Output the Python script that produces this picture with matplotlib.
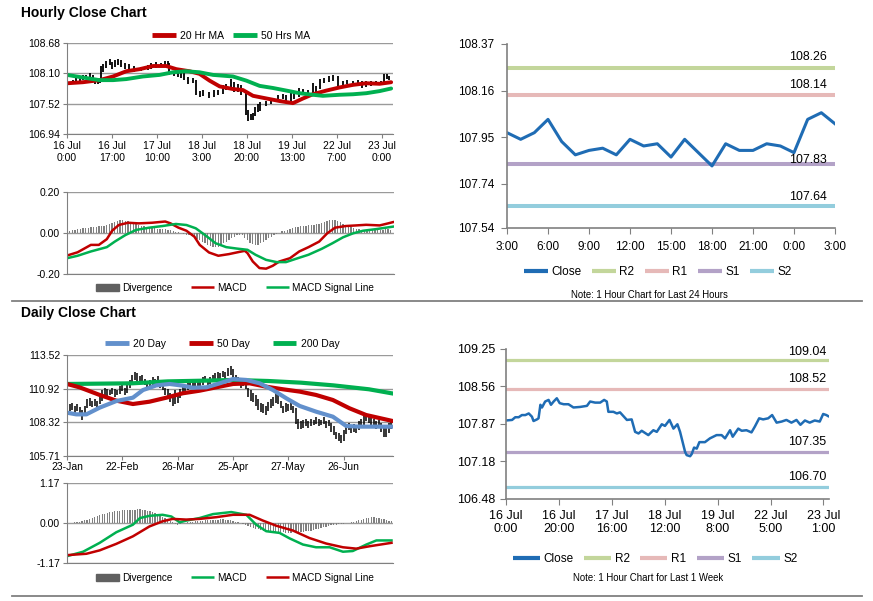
import matplotlib

matplotlib.use("Agg")
import matplotlib.pyplot as plt
from matplotlib import font_manager
from matplotlib.lines import Line2D
from matplotlib.patches import Patch

W, H = 873, 601

# ---- hourly data (hour index from 16 Jul 0:00, weekend removed) ----
hr_x = [0, 2.3, 3.5, 4.8, 6, 7.3, 8.6, 9.8, 10.4, 11.7, 12.3, 13, 13.6, 14.8, 16.1, 17, 18,
        19.2, 20.3, 21.8, 23.6, 25.5, 28, 30.6, 31.8, 33.7, 35.6, 37.1, 38.1, 38.7, 40.6,
        41.9, 43.1, 44.4, 45.7, 47.5, 48.8, 50.1, 51.3, 53.8, 55.7, 57, 58.9, 60.1, 61.8,
        63.3, 64.8, 65.8, 67.7, 68.3, 69.6, 70.2, 71.1, 72.1, 73.1, 75.2, 77.1, 79.6, 81.5,
        82.8, 84.7, 85.7, 87.8, 89.1, 90.9, 92.8, 94.1, 95.7, 97.2, 99.1, 100.6, 102.3,
        104.2, 106, 107.9, 109.8, 111.3, 113, 114.8, 116.7, 118.6, 119.9, 121.1, 121.8]
hr_close = [107.93, 107.94, 107.99, 107.99, 108.03, 108.03, 108.06, 108.00, 107.92, 107.95,
            107.97, 108.22, 108.17, 108.28, 108.31, 108.22, 108.28, 108.34, 108.25, 108.23,
            108.23, 108.17, 108.18, 108.20, 108.28, 108.26, 108.26, 108.31, 108.28, 108.09,
            108.09, 108.06, 108.08, 108.01, 107.94, 107.95, 107.72, 107.69, 107.74, 107.66,
            107.75, 107.72, 107.86, 107.83, 107.94, 107.78, 107.86, 107.72, 107.35, 107.29,
            107.27, 107.31, 107.43, 107.41, 107.53, 107.53, 107.60, 107.66, 107.66, 107.60,
            107.75, 107.63, 107.78, 107.74, 107.75, 107.71, 107.82, 107.97, 107.95, 107.97,
            108.03, 107.89, 107.91, 107.94, 107.89, 107.94, 107.85, 107.93, 107.89, 107.93,
            107.91, 108.05, 108.03, 108.01]
hr_high = [107.97, 107.98, 108.02, 108.03, 108.06, 108.07, 108.10, 108.06, 108.01, 107.99,
           108.00, 108.24, 108.27, 108.33, 108.38, 108.32, 108.36, 108.38, 108.35, 108.29,
           108.27, 108.24, 108.23, 108.26, 108.30, 108.31, 108.30, 108.33, 108.33, 108.30,
           108.14, 108.12, 108.12, 108.10, 108.03, 108.01, 107.97, 107.76, 107.78, 107.74,
           107.79, 107.78, 107.88, 107.90, 107.99, 107.94, 107.89, 107.87, 107.74, 107.40,
           107.33, 107.34, 107.46, 107.52, 107.56, 107.58, 107.63, 107.69, 107.70, 107.68,
           107.77, 107.76, 107.82, 107.81, 107.79, 107.92, 107.85, 107.99, 108.01, 108.05,
           108.06, 108.05, 107.95, 107.97, 107.95, 107.97, 107.95, 107.96, 107.95, 107.95,
           107.95, 108.08, 108.08, 108.05]
hr_low = [107.86, 107.90, 107.92, 107.95, 107.97, 107.99, 108.00, 107.96, 107.90, 107.90,
          107.92, 107.95, 108.12, 108.20, 108.25, 108.18, 108.22, 108.26, 108.22, 108.19,
          108.17, 108.13, 108.14, 108.16, 108.18, 108.21, 108.22, 108.23, 108.24, 108.07,
          108.05, 108.03, 108.02, 107.97, 107.90, 107.91, 107.68, 107.64, 107.66, 107.62,
          107.65, 107.68, 107.70, 107.79, 107.82, 107.74, 107.75, 107.69, 107.30, 107.18,
          107.20, 107.20, 107.28, 107.36, 107.38, 107.48, 107.51, 107.58, 107.61, 107.56,
          107.58, 107.60, 107.65, 107.70, 107.70, 107.68, 107.70, 107.80, 107.91, 107.93,
          107.95, 107.86, 107.86, 107.89, 107.85, 107.88, 107.82, 107.84, 107.86, 107.87,
          107.87, 107.90, 108.00, 107.98]

ma_x = [0, 6, 12.3, 17.4, 22.4, 27.5, 32.5, 37.5, 41.3, 46.3, 50.1, 53.9, 57.7, 62.7, 66.5,
        70.3, 75.3, 80.4, 85.4, 89.2, 92.9, 98, 103, 108.1, 113.1, 118.1, 122.5]
ma20h = [107.91, 107.93, 107.97, 108.04, 108.14, 108.18, 108.24, 108.24, 108.18, 108.14,
         108.09, 107.96, 107.85, 107.80, 107.78, 107.67, 107.62, 107.57, 107.53, 107.62,
         107.70, 107.77, 107.83, 107.88, 107.91, 107.90, 107.93]
ma50_x = [0, 6, 12.3, 17.4, 22.4, 28.7, 35, 40, 45, 50.1, 55.2, 62.7, 67.8, 72.8, 77.8, 82.9,
          87.9, 92.9, 96.7, 103, 108.1, 113.1, 118.1, 122.5]
ma50h = [108.07, 108.02, 107.97, 107.97, 107.99, 108.04, 108.07, 108.12, 108.14, 108.12,
         108.07, 108.04, 107.96, 107.86, 107.82, 107.77, 107.72, 107.69, 107.67, 107.69,
         107.70, 107.72, 107.76, 107.81]

macd_hx = [0, 4, 9, 12, 15, 17, 19.5, 23, 27, 32, 37, 39, 42, 45, 48, 50, 53.5, 57, 61, 65,
           67, 68, 70, 72.5, 75, 77.5, 80, 84, 87.5, 91, 95, 98, 101, 105, 109, 112.7, 117.8,
           121, 122.8]
macd_h = [-0.110, -0.094, -0.058, -0.058, -0.030, 0.011, 0.039, 0.050, 0.047, 0.050, 0.056,
          0.047, 0.026, 0.011, -0.018, -0.058, -0.095, -0.111, -0.103, -0.092, -0.087,
          -0.098, -0.139, -0.171, -0.174, -0.160, -0.139, -0.123, -0.090, -0.069, -0.042,
          -0.002, 0.026, 0.034, 0.037, 0.040, 0.037, 0.047, 0.053]
sig_hx = [0, 4, 9, 15, 18, 22, 26, 31, 36, 41, 45, 48.5, 52, 56, 60, 64, 68, 71, 75, 79,
          82.5, 86, 91, 96, 100, 104, 107.7, 111.5, 116.5, 122.8]
sig_h = [-0.123, -0.111, -0.090, -0.069, -0.042, -0.010, 0.015, 0.026, 0.034, 0.044, 0.039,
         0.023, -0.010, -0.050, -0.069, -0.076, -0.082, -0.106, -0.131, -0.142, -0.142,
         -0.127, -0.106, -0.077, -0.050, -0.021, -0.002, 0.011, 0.019, 0.031]
div_h = [0.010, 0.012, 0.015, 0.017, 0.018, 0.020, 0.022, 0.024, 0.026, 0.028,
         0.030, 0.031, 0.033, 0.034, 0.036, 0.040, 0.045, 0.050, 0.056, 0.060,
         0.064, 0.063, 0.060, 0.058, 0.055, 0.050, 0.045, 0.040, 0.036, 0.032,
         0.028, 0.025, 0.023, 0.022, 0.020, 0.020, 0.019, 0.018, 0.016, 0.014,
         0.010, 0.007, 0.004, 0.001, -0.003, -0.008, -0.012, -0.016, -0.022, -0.028,
         -0.035, -0.042, -0.050, -0.058, -0.064, -0.068, -0.070, -0.066, -0.058, -0.050,
         -0.042, -0.034, -0.026, -0.018, -0.012, -0.008, -0.012, -0.022, -0.035, -0.048,
         -0.056, -0.060, -0.058, -0.050, -0.042, -0.034, -0.026, -0.018, -0.010, -0.004,
         0.002, 0.008, 0.012, 0.016, 0.020, 0.024, 0.027, 0.030, 0.032, 0.034,
         0.036, 0.038, 0.040, 0.041, 0.042, 0.045, 0.050, 0.055, 0.060, 0.063,
         0.065, 0.064, 0.060, 0.054, 0.046, 0.040, 0.034, 0.028, 0.024, 0.020,
         0.018, 0.016, 0.015, 0.016, 0.017, 0.016, 0.015, 0.014, 0.015, 0.016,
         0.018, 0.019, 0.017]
hr_ticks = [0, 17, 34, 51, 68, 85, 102, 119]
hr_labels = ["16 Jul\n0:00", "16 Jul\n17:00", "17 Jul\n10:00", "18 Jul\n3:00",
             "18 Jul\n20:00", "19 Jul\n13:00", "22 Jul\n7:00", "23 Jul\n0:00"]

# ---- last 24 hours ----
day_close = [107.97, 107.94, 107.97, 108.03, 107.93, 107.87, 107.89, 107.90, 107.87, 107.94,
             107.91, 107.92, 107.86, 107.94, 107.88, 107.82, 107.92, 107.89, 107.89, 107.92,
             107.91, 107.88, 108.03, 108.06, 108.01]
day_labels = ["3:00", "6:00", "9:00", "12:00", "15:00", "18:00", "21:00", "0:00", "3:00"]
lvl_names = ["R2", "R1", "S1", "S2"]
lvl_24h = [108.26, 108.14, 107.83, 107.64]
lvl_week = [109.04, 108.52, 107.35, 106.70]
wk_ticks = [0, 20, 40, 60, 80, 100, 120]
wk_labels = ["16 Jul\n0:00", "16 Jul\n20:00", "17 Jul\n16:00", "18 Jul\n12:00",
             "19 Jul\n8:00", "22 Jul\n5:00", "23 Jul\n1:00"]

# ---- daily data (trading-day index from 23 Jan) ----
d_high = [109.9, 109.7, 109.8, 109.6, 109.7, 109.5, 109.3, 109.6, 110.1, 110.2,
          110.0, 110.1, 110.0, 110.3, 110.8, 111.0, 110.9, 110.8, 111.0, 110.9,
          110.8, 111.1, 111.3, 111.0, 111.4, 111.6, 112.0, 112.2, 112.1, 111.9,
          112.0, 111.7, 111.5, 111.6, 111.8, 111.7, 111.9, 111.6, 111.4, 111.0,
          110.9, 110.6, 110.4, 110.8, 110.5, 110.9, 111.1, 111.0, 111.4, 111.6,
          111.5, 111.7, 111.6, 111.5, 111.8, 111.9, 111.7, 111.8, 112.0, 112.1,
          112.2, 112.1, 112.3, 112.2, 112.5, 112.7, 112.4, 112.0, 111.8, 111.6,
          111.7, 111.5, 111.0, 110.8, 110.6, 110.4, 110.1, 109.8, 109.7, 109.6,
          109.9, 110.1, 110.3, 110.6, 110.4, 110.0, 109.6, 109.8, 109.7, 109.9,
          109.6, 109.4, 108.6, 108.4, 108.5, 108.6, 108.4, 108.6, 108.5, 108.7,
          108.6, 108.5, 108.7, 108.4, 108.5, 108.3, 108.0, 107.6, 107.5, 107.3,
          107.7, 108.1, 108.3, 108.0, 108.2, 108.1, 108.4, 108.6, 108.8, 109.0,
          108.9, 108.7, 108.6, 108.4, 108.5, 108.3, 108.1, 107.9, 108.3, 108.4]
d_low = [109.3, 109.2, 109.3, 109.0, 109.2, 108.9, 108.5, 108.9, 109.4, 109.6,
         109.5, 109.6, 109.5, 109.7, 110.0, 110.4, 110.3, 110.4, 110.5, 110.3,
         110.4, 110.5, 110.7, 110.4, 110.6, 111.0, 111.3, 111.6, 111.5, 111.3,
         111.4, 111.2, 110.9, 111.0, 111.1, 111.2, 111.3, 111.0, 110.8, 110.4,
         110.2, 109.9, 109.6, 109.7, 109.8, 110.2, 110.4, 110.5, 110.8, 111.0,
         111.0, 111.1, 111.0, 110.9, 111.2, 111.4, 111.2, 111.3, 111.4, 111.6,
         111.7, 111.6, 111.8, 111.7, 111.9, 112.0, 111.7, 111.4, 111.2, 111.0,
         111.1, 110.9, 110.3, 110.0, 109.9, 109.6, 109.3, 109.1, 109.0, 108.9,
         109.2, 109.4, 109.6, 109.8, 109.7, 109.4, 109.0, 109.1, 109.2, 109.3,
         109.0, 108.2, 107.8, 107.8, 107.9, 108.0, 107.9, 108.0, 108.1, 108.2,
         108.0, 108.1, 108.2, 107.9, 108.0, 107.6, 107.3, 107.0, 106.9, 106.7,
         106.9, 107.4, 107.7, 107.5, 107.6, 107.5, 107.7, 107.9, 108.1, 108.4,
         108.3, 108.1, 108.0, 107.8, 107.9, 107.6, 107.2, 107.2, 107.5, 107.8]
ma20d_x = [0, 3.7, 7.7, 13, 19.6, 26.2, 30.2, 35.5, 40.8, 46, 50, 55.4, 60.7, 66, 71.3,
           76.6, 81.9, 87.2, 92.5, 99, 105.7, 111, 116.3, 128.9]
ma20d = [109.06, 108.93, 108.93, 109.45, 109.96, 110.22, 110.81, 111.17, 111.28, 111.15,
         110.99, 111.02, 111.33, 111.66, 111.59, 111.33, 110.81, 110.17, 109.58, 109.14,
         108.75, 108.03, 107.98, 107.98]
ma50d_x = [0, 5, 13, 19.6, 26.2, 32.8, 39.5, 46, 52.7, 59.3, 66, 72.6, 79.2, 85.8, 92.5,
           99, 105.7, 112.3, 118.9, 128.9]
ma50d = [111.28, 111.02, 110.43, 109.99, 109.73, 109.91, 110.22, 110.56, 110.76, 111.02,
         111.28, 111.33, 111.07, 110.87, 110.69, 110.43, 110.04, 109.40, 108.88, 108.44]
ma200d_x = [0, 26, 40, 53, 66, 80, 93, 106, 120, 129]
ma200d = [111.28, 111.33, 111.48, 111.53, 111.59, 111.51, 111.38, 111.17, 110.87, 110.56]

macd_dx = [0, 6.4, 13, 19.6, 26.2, 29, 32.8, 38, 41.5, 44.8, 47.4, 52.7, 58, 65.3, 71.3,
           75.2, 79.2, 84.5, 88.5, 93.8, 99, 104.4, 109.7, 113.6, 119, 123, 129]
macd_d = [-0.97, -0.84, -0.58, -0.27, -0.05, 0.145, 0.21, 0.24, 0.19, 0.02, 0.07, 0.145,
          0.26, 0.32, 0.24, -0.05, -0.24, -0.29, -0.45, -0.63, -0.71, -0.71, -0.84, -0.82,
          -0.63, -0.51, -0.51]
sig_dx = [0, 7.7, 13, 19.6, 26.2, 32.8, 38, 42, 47.4, 52.7, 59.3, 66, 72.6, 77.9, 83.2,
          89.8, 96.4, 103, 109.7, 115, 120.3, 129]
sig_d = [-0.94, -0.90, -0.80, -0.61, -0.39, -0.10, 0.05, 0.12, 0.10, 0.12, 0.17, 0.24,
         0.24, 0.07, -0.08, -0.22, -0.44, -0.60, -0.71, -0.75, -0.68, -0.58]
div_d = [0.00, 0.01, 0.01, 0.02, 0.03, 0.04, 0.06, 0.08, 0.10, 0.12,
         0.14, 0.17, 0.20, 0.22, 0.25, 0.27, 0.29, 0.31, 0.33, 0.34,
         0.35, 0.36, 0.37, 0.37, 0.38, 0.38, 0.38, 0.39, 0.40, 0.40,
         0.39, 0.38, 0.36, 0.34, 0.32, 0.29, 0.26, 0.22, 0.18, 0.14,
         0.10, 0.06, 0.02, -0.03, -0.05, -0.03, -0.01, 0.01, 0.02, 0.03,
         0.04, 0.05, 0.05, 0.06, 0.07, 0.08, 0.09, 0.09, 0.10, 0.10,
         0.10, 0.11, 0.11, 0.10, 0.09, 0.08, 0.06, 0.04, 0.02, 0.00,
         -0.02, -0.05, -0.08, -0.11, -0.14, -0.17, -0.19, -0.21, -0.22, -0.23,
         -0.24, -0.25, -0.25, -0.26, -0.26, -0.27, -0.27, -0.28, -0.28, -0.28,
         -0.27, -0.27, -0.26, -0.26, -0.25, -0.24, -0.23, -0.22, -0.20, -0.19,
         -0.17, -0.15, -0.13, -0.11, -0.09, -0.07, -0.06, -0.05, -0.04, -0.03,
         -0.02, -0.01, 0.00, 0.02, 0.04, 0.06, 0.08, 0.10, 0.12, 0.14,
         0.16, 0.17, 0.17, 0.16, 0.15, 0.13, 0.11, 0.09, 0.07, 0.05]
d_ticks = [0, 22, 44, 66, 88, 110]
d_labels = ["23-Jan", "22-Feb", "26-Mar", "25-Apr", "27-May", "26-Jun"]

RED, GREEN, BLUE, CLOSE = "#C00000", "#00B050", "#6290CC", "#1F6CB4"
LVL_COLORS = ["#C3D69B", "#E6B9B8", "#B3A2C7", "#93CDDD"]
GRID, DIVC = "#9A9A9A", "#808080"

plt.rcParams["font.family"] = ["Liberation Sans", "DejaVu Sans"]
have = {f.name for f in font_manager.fontManager.ttflist}
if "Liberation Sans Narrow" in have:
    NARROW, NSCALE = ["Liberation Sans Narrow", "DejaVu Sans"], 1.0
else:
    NARROW, NSCALE = ["Liberation Sans", "DejaVu Sans"], 0.85


def nprop(size):
    return {"family": NARROW, "size": size * NSCALE}


fig = plt.figure(figsize=(W / 100, H / 100), dpi=100)


def px_axes(l, t, r, b):
    return fig.add_axes([l / W, 1 - b / H, (r - l) / W, (b - t) / H])


def left_style(ax, lo, hi, yticks, fmt, xlim):
    ax.set_xlim(*xlim)
    ax.set_ylim(lo, hi)
    ax.set_yticks(yticks)
    ax.set_yticklabels([fmt.format(v) for v in yticks], fontsize=7.5)
    for s in ("top", "right"):
        ax.spines[s].set_visible(False)
    for s in ("left", "bottom"):
        ax.spines[s].set_color("#808080")
    ax.grid(axis="y", color=GRID, lw=1)
    ax.set_axisbelow(True)
    ax.tick_params(color="#808080", length=3, pad=2, labelsize=7.5)


def legend(handles, labels, cx, cy, prop, hl=2.3, cs=1.0, tp=0.4):
    fig.legend(handles, labels, loc="center", bbox_to_anchor=(cx / W, 1 - cy / H),
               ncol=len(handles), frameon=False, prop=prop, borderpad=0,
               handlelength=hl, columnspacing=cs, handletextpad=tp)


# ---------------- Hourly close chart ----------------
fig.text(21 / W, 1 - 13 / H, "Hourly Close Chart", fontsize=10, weight="bold", va="center")
ax = px_axes(67, 43, 393, 134)
ax.vlines(hr_x, hr_low, hr_high, color="black", lw=1.3)
ax.plot(ma_x, ma20h, color=RED, lw=2.8, solid_capstyle="round")
ax.plot(ma50_x, ma50h, color=GREEN, lw=2.8, solid_capstyle="round")
left_style(ax, 106.94, 108.68, [106.94, 107.52, 108.10, 108.68], "{:.2f}", (0, 123.2))
ax.set_xticks(hr_ticks)
ax.set_xticklabels(hr_labels, fontsize=7.5, linespacing=1.25)
legend([Line2D([], [], color=RED, lw=3.5, solid_capstyle="butt"),
        Line2D([], [], color=GREEN, lw=3.5, solid_capstyle="butt")],
       ["20 Hr MA", "50 Hrs MA"], 231, 36, {"size": 7.5}, cs=0.9)

ax = px_axes(67, 192, 394, 274)
ax.bar(range(len(div_h)), div_h, width=0.5, color=DIVC)
ax.plot(macd_hx, macd_h, color=RED, lw=1.8)
ax.plot(sig_hx, sig_h, color=GREEN, lw=1.8)
left_style(ax, -0.2, 0.2, [-0.2, 0.0, 0.2], "{:.2f}", (0, 123.2))
ax.set_xticks([])
legend([Patch(color="#606060"), Line2D([], [], color=RED, lw=1.8, solid_capstyle="butt"),
        Line2D([], [], color=GREEN, lw=1.8, solid_capstyle="butt")],
       ["Divergence", "MACD", "MACD Signal Line"], 235, 288, nprop(8.5), cs=1.9, tp=0.3)

# ---------------- last 24 hours ----------------
ax = px_axes(507, 44, 835, 228)
for name, v, c in zip(lvl_names, lvl_24h, LVL_COLORS):
    ax.axhline(v, color=c, lw=2.9)
ax.plot(range(len(day_close)), day_close, color=CLOSE, lw=2.2)
for v, dy in zip(lvl_24h, [5, 4, -2, 3]):
    ax.annotate(f"{v:.2f}", (1, v), xycoords=("axes fraction", "data"),
                xytext=(-8, dy), textcoords="offset pixels", ha="right", va="bottom",
                **nprop(10.5))
ax.set_xlim(0, 24)
ax.set_ylim(107.54, 108.37)
ax.set_yticks([107.54, 107.74, 107.95, 108.16, 108.37])
ax.set_yticklabels(["107.54", "107.74", "107.95", "108.16", "108.37"], **nprop(10))
ax.set_xticks(range(0, 25, 3))
ax.set_xticklabels(day_labels, **nprop(10))
for s in ("top", "right"):
    ax.spines[s].set_visible(False)
for s in ("left", "bottom"):
    ax.spines[s].set_color("#808080")
    ax.spines[s].set_linewidth(1.2)
ax.tick_params(color="#808080", length=4, pad=5)
lv_handles = [Line2D([], [], color=CLOSE, lw=3, solid_capstyle="butt")] + \
    [Line2D([], [], color=c, lw=3, solid_capstyle="butt") for c in LVL_COLORS]
legend(lv_handles, ["Close"] + lvl_names, 658, 272, nprop(10), hl=2.0, cs=0.9, tp=0.3)
fig.text(649 / W, 1 - 295 / H, "Note: 1 Hour Chart for Last 24 Hours", ha="center",
         va="center", **nprop(8.2))

# separators
for y in (301, 596):
    fig.add_artist(Line2D([12 / W, 862 / W], [1 - y / H] * 2, color="#808080", lw=1.3))

# ---------------- Daily close chart ----------------
fig.text(21 / W, 1 - 313 / H, "Daily Close Chart", fontsize=10, weight="bold", va="center")
ax = px_axes(67, 355, 393, 456)
ax.vlines(range(len(d_high)), d_low, d_high, color="black", lw=1.1)
ax.plot(ma200d_x, ma200d, color=GREEN, lw=3)
ax.plot(ma50d_x, ma50d, color=RED, lw=3)
ax.plot(ma20d_x, ma20d, color=BLUE, lw=3)
left_style(ax, 105.71, 113.52, [105.71, 108.32, 110.92, 113.52], "{:.2f}", (0, 129.6))
ax.set_xticks(d_ticks)
ax.set_xticklabels(d_labels, fontsize=7.5)
ax.tick_params(axis="x", pad=1)
legend([Line2D([], [], color=BLUE, lw=3.5, solid_capstyle="butt"),
        Line2D([], [], color=RED, lw=3.5, solid_capstyle="butt"),
        Line2D([], [], color=GREEN, lw=3.5, solid_capstyle="butt")],
       ["20 Day", "50 Day", "200 Day"], 222, 344, {"size": 7.5}, cs=2.2)

ax = px_axes(67, 483, 393, 563)
ax.bar(range(len(div_d)), div_d, width=0.5, color=DIVC)
ax.plot(macd_dx, macd_d, color=GREEN, lw=1.8)
ax.plot(sig_dx, sig_d, color=RED, lw=1.8)
left_style(ax, -1.17, 1.17, [-1.17, 0.0, 1.17], "{:.2f}", (0, 129.6))
ax.set_xticks([])
legend([Patch(color="#606060"), Line2D([], [], color=GREEN, lw=1.8, solid_capstyle="butt"),
        Line2D([], [], color=RED, lw=1.8, solid_capstyle="butt")],
       ["Divergence", "MACD", "MACD Signal Line"], 235, 578, nprop(8.5), cs=1.9, tp=0.3)

# ---------------- last week ----------------
ax = px_axes(506, 349, 829, 499)
for v, c in zip(lvl_week, LVL_COLORS):
    ax.axhline(v, color=c, lw=2.3)
ax.plot(hr_x, hr_close, color=CLOSE, lw=1.8)
for v, dy in zip(lvl_week, [2, 4, 4, 4]):
    ax.annotate(f"{v:.2f}", (1, v), xycoords=("axes fraction", "data"),
                xytext=(-3, dy), textcoords="offset pixels", ha="right", va="bottom",
                fontsize=9)
ax.set_xlim(0, 122.1)
ax.set_ylim(106.48, 109.25)
ax.set_yticks([106.48, 107.18, 107.87, 108.56, 109.25])
ax.set_yticklabels(["106.48", "107.18", "107.87", "108.56", "109.25"], fontsize=9)
ax.set_xticks(wk_ticks)
ax.set_xticklabels(wk_labels, fontsize=9, linespacing=1.1)
for s in ("top", "right"):
    ax.spines[s].set_visible(False)
for s in ("left", "bottom"):
    ax.spines[s].set_color("#808080")
    ax.spines[s].set_linewidth(1.2)
ax.tick_params(color="#808080", length=4, pad=4)
lv_handles = [Line2D([], [], color=CLOSE, lw=3, solid_capstyle="butt")] + \
    [Line2D([], [], color=c, lw=3, solid_capstyle="butt") for c in LVL_COLORS]
legend(lv_handles, ["Close"] + lvl_names, 655, 559, {"size": 8.5}, hl=2.3, cs=0.9, tp=0.3)
fig.text(648 / W, 1 - 578 / H, "Note: 1 Hour Chart for Last 1 Week", ha="center",
         va="center", **nprop(8.2))

fig.savefig("out.png", dpi=100)
